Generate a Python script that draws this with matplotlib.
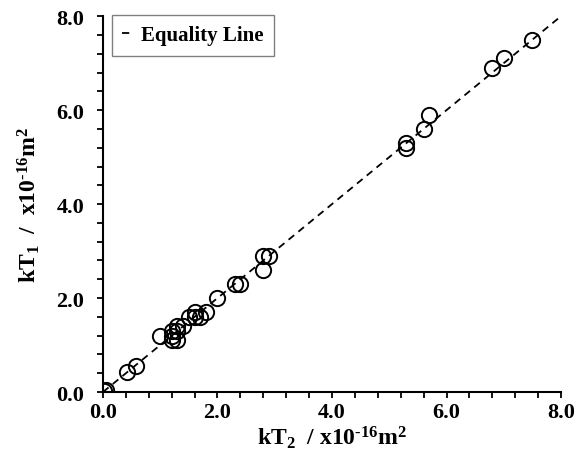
import numpy as np
import matplotlib
matplotlib.use("Agg")
from matplotlib import pyplot as plt

plt.rcParams['font.family'] = 'Liberation Serif'
plt.rcParams['font.weight'] = 'bold'
plt.rcParams['axes.labelweight'] = 'bold'
plt.rcParams['mathtext.fontset'] = 'custom'
plt.rcParams['mathtext.rm'] = 'Liberation Serif:bold'
plt.rcParams['mathtext.bf'] = 'Liberation Serif:bold'
plt.rcParams['mathtext.it'] = 'Liberation Serif:bold'

# permeability from the two methods, x1e-16 m^2
kt2 = [0.02, 0.05, 0.42, 0.57, 1.0, 1.2, 1.2, 1.2, 1.3, 1.3, 1.3, 1.4, 1.5, 1.6, 1.6,
       1.7, 1.8, 2.0, 2.3, 2.4, 2.8, 2.8, 2.9, 5.3, 5.3, 5.6, 5.7, 6.8, 7.0, 7.5]
kt1 = [0.02, 0.04, 0.42, 0.56, 1.2, 1.1, 1.2, 1.3, 1.1, 1.3, 1.4, 1.4, 1.6, 1.6, 1.7,
       1.6, 1.7, 2.0, 2.3, 2.3, 2.6, 2.9, 2.9, 5.3, 5.2, 5.6, 5.9, 6.9, 7.1, 7.5]
equality = [0.0, 8.0]

fig = plt.figure(figsize=(5.85, 4.77), dpi=100)
ax = fig.add_axes([0.176, 0.176, 0.783, 0.788])

ax.plot(equality, equality, color='black', linestyle=(0, (4, 3)), linewidth=1.3,
        label='Equality Line', zorder=2)
ax.plot(kt2, kt1, linestyle='none', marker='o', markersize=11, markerfacecolor='none',
        markeredgecolor='black', markeredgewidth=1.4, zorder=3)

ax.set_xlim(0, 8)
ax.set_ylim(0, 8)
ax.set_xticks(np.arange(0, 8.1, 2.0))
ax.set_yticks(np.arange(0, 8.1, 2.0))
ax.set_xticks(np.arange(0, 8.01, 0.4), minor=True)
ax.set_yticks(np.arange(0, 8.01, 0.4), minor=True)
ax.xaxis.set_major_formatter(matplotlib.ticker.FormatStrFormatter('%.1f'))
ax.yaxis.set_major_formatter(matplotlib.ticker.FormatStrFormatter('%.1f'))
ax.tick_params(which='both', direction='out', width=1.3, length=4.5, labelsize=16)
ax.tick_params(axis='x', which='major', pad=3)
ax.tick_params(axis='y', which='major', pad=9)

for side in ['top', 'right']:
    ax.spines[side].set_visible(False)
for side in ['left', 'bottom']:
    ax.spines[side].set_linewidth(1.5)

ax.set_xlabel('kT$_2$  / x10$^{\u201016}$m$^2$', fontsize=17, fontweight='bold', labelpad=1)
ax.set_ylabel('kT$_1$  /  x10$^{\u201016}$m$^2$', fontsize=17, fontweight='bold', labelpad=10)

leg = ax.legend(loc='upper left', bbox_to_anchor=(0.005, 1.02), handlelength=0.4,
                handletextpad=0.5, fontsize=15, fancybox=False, framealpha=1,
                borderpad=0.5, borderaxespad=0.3)
leg.get_frame().set_edgecolor('#808080')
leg.get_frame().set_linewidth(1.0)

fig.savefig('out.png', dpi=100)
